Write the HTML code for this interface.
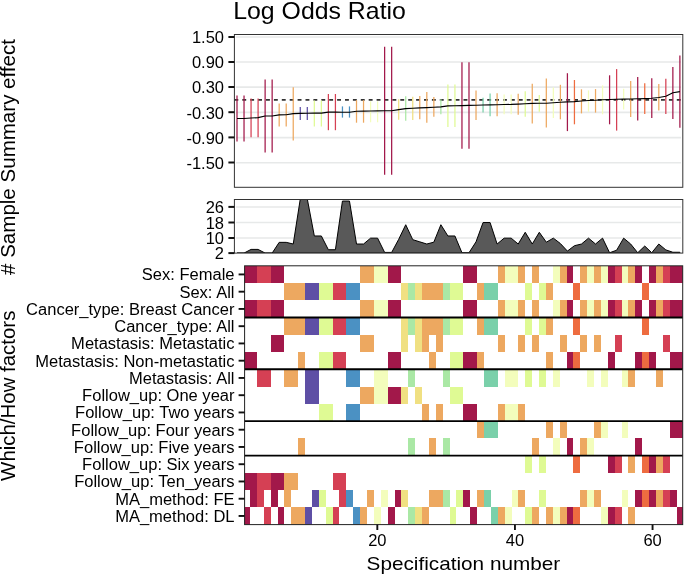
<!DOCTYPE html>
<html lang="en"><head><meta charset="utf-8"><title>Log Odds Ratio</title>
<style>html,body{margin:0;padding:0;background:#fff}svg{display:block}</style></head>
<body>
<svg width="685" height="576" viewBox="0 0 685 576" font-family="Liberation Sans, Arial, Helvetica, sans-serif" fill="#000">
<rect width="685" height="576" fill="#fff"/>
<text x="233.2" y="19" font-size="24" textLength="172.7" lengthAdjust="spacingAndGlyphs">Log Odds Ratio</text>
<line x1="236" x2="681" y1="37" y2="37" stroke="#E7E9E9" stroke-width="1.6"/>
<line x1="236" x2="681" y1="62" y2="62" stroke="#E7E9E9" stroke-width="1.6"/>
<line x1="236" x2="681" y1="87.1" y2="87.1" stroke="#E7E9E9" stroke-width="1.6"/>
<line x1="236" x2="681" y1="112.4" y2="112.4" stroke="#E7E9E9" stroke-width="1.6"/>
<line x1="236" x2="681" y1="137.6" y2="137.6" stroke="#E7E9E9" stroke-width="1.6"/>
<line x1="236" x2="681" y1="162.7" y2="162.7" stroke="#E7E9E9" stroke-width="1.6"/>
<line x1="234.4" x2="682.8" y1="99.9" y2="99.9" stroke="#333" stroke-width="1.8" stroke-dasharray="3.9 4"/>
<line x1="237.00" x2="237.00" y1="95.5" y2="141.6" stroke="#A2184A" stroke-width="1.25"/>
<line x1="244.03" x2="244.03" y1="95.5" y2="141.6" stroke="#A2184A" stroke-width="1.25"/>
<line x1="251.06" x2="251.06" y1="98.5" y2="137.3" stroke="#D54054" stroke-width="1.25"/>
<line x1="258.09" x2="258.09" y1="98.5" y2="137.3" stroke="#D54054" stroke-width="1.25"/>
<line x1="265.12" x2="265.12" y1="79.5" y2="152.5" stroke="#A2184A" stroke-width="1.25"/>
<line x1="272.15" x2="272.15" y1="79.5" y2="152.5" stroke="#A2184A" stroke-width="1.25"/>
<line x1="279.18" x2="279.18" y1="103.4" y2="126.4" stroke="#EDA860" stroke-width="1.25"/>
<line x1="286.21" x2="286.21" y1="103.4" y2="126.4" stroke="#EDA860" stroke-width="1.25"/>
<line x1="293.24" x2="293.24" y1="87.2" y2="140.6" stroke="#EDA860" stroke-width="1.25"/>
<line x1="300.27" x2="300.27" y1="107" y2="120.1" stroke="#5E4FA5" stroke-width="1.25"/>
<line x1="307.30" x2="307.30" y1="107" y2="120.1" stroke="#5E4FA5" stroke-width="1.25"/>
<line x1="314.33" x2="314.33" y1="100.5" y2="126.4" stroke="#DFFA94" stroke-width="1.25"/>
<line x1="321.36" x2="321.36" y1="100.5" y2="126.4" stroke="#DFFA94" stroke-width="1.25"/>
<line x1="328.39" x2="328.39" y1="94" y2="130.2" stroke="#D54054" stroke-width="1.25"/>
<line x1="335.42" x2="335.42" y1="94" y2="130.2" stroke="#D54054" stroke-width="1.25"/>
<line x1="342.45" x2="342.45" y1="106.4" y2="117.6" stroke="#4B91C3" stroke-width="1.25"/>
<line x1="349.48" x2="349.48" y1="106.4" y2="117.6" stroke="#4B91C3" stroke-width="1.25"/>
<line x1="356.51" x2="356.51" y1="100.2" y2="122.7" stroke="#EDA860" stroke-width="1.25"/>
<line x1="363.54" x2="363.54" y1="100.2" y2="122.7" stroke="#EDA860" stroke-width="1.25"/>
<line x1="370.57" x2="370.57" y1="101.3" y2="122.3" stroke="#F3FDBC" stroke-width="1.25"/>
<line x1="377.60" x2="377.60" y1="101.3" y2="122.3" stroke="#F3FDBC" stroke-width="1.25"/>
<line x1="384.63" x2="384.63" y1="46.8" y2="174.7" stroke="#A2184A" stroke-width="1.25"/>
<line x1="391.66" x2="391.66" y1="46.8" y2="174.7" stroke="#A2184A" stroke-width="1.25"/>
<line x1="398.69" x2="398.69" y1="99.2" y2="119.8" stroke="#F0E082" stroke-width="1.25"/>
<line x1="405.72" x2="405.72" y1="96.3" y2="120.8" stroke="#AAE8A5" stroke-width="1.25"/>
<line x1="412.75" x2="412.75" y1="96.8" y2="120.1" stroke="#F0E082" stroke-width="1.25"/>
<line x1="419.78" x2="419.78" y1="96" y2="119.3" stroke="#EDA860" stroke-width="1.25"/>
<line x1="426.81" x2="426.81" y1="92.1" y2="122.7" stroke="#EDA860" stroke-width="1.25"/>
<line x1="433.84" x2="433.84" y1="97.1" y2="116.8" stroke="#EDA860" stroke-width="1.25"/>
<line x1="440.87" x2="440.87" y1="99.2" y2="114.3" stroke="#AAE8A5" stroke-width="1.25"/>
<line x1="447.90" x2="447.90" y1="84.6" y2="126.9" stroke="#DFFA94" stroke-width="1.25"/>
<line x1="454.93" x2="454.93" y1="84.6" y2="126.9" stroke="#DFFA94" stroke-width="1.25"/>
<line x1="461.96" x2="461.96" y1="62.2" y2="148.7" stroke="#A2184A" stroke-width="1.25"/>
<line x1="468.99" x2="468.99" y1="62.2" y2="148.7" stroke="#A2184A" stroke-width="1.25"/>
<line x1="476.02" x2="476.02" y1="90.4" y2="120.1" stroke="#EDA860" stroke-width="1.25"/>
<line x1="483.05" x2="483.05" y1="97.7" y2="112.6" stroke="#7AD0AA" stroke-width="1.25"/>
<line x1="490.08" x2="490.08" y1="93.5" y2="116.3" stroke="#7AD0AA" stroke-width="1.25"/>
<line x1="497.11" x2="497.11" y1="93.3" y2="116.3" stroke="#EDA860" stroke-width="1.25"/>
<line x1="504.14" x2="504.14" y1="94.6" y2="114.3" stroke="#F3FDBC" stroke-width="1.25"/>
<line x1="511.17" x2="511.17" y1="94.6" y2="114.3" stroke="#F3FDBC" stroke-width="1.25"/>
<line x1="518.20" x2="518.20" y1="93.8" y2="114.8" stroke="#EDA860" stroke-width="1.25"/>
<line x1="525.23" x2="525.23" y1="91.3" y2="116.8" stroke="#DFFA94" stroke-width="1.25"/>
<line x1="532.26" x2="532.26" y1="83.7" y2="123.5" stroke="#EDA860" stroke-width="1.25"/>
<line x1="539.29" x2="539.29" y1="95.1" y2="111.75" stroke="#DFFA94" stroke-width="1.25"/>
<line x1="546.32" x2="546.32" y1="78.5" y2="127.6" stroke="#EDA860" stroke-width="1.25"/>
<line x1="553.35" x2="553.35" y1="87.4" y2="118.1" stroke="#F3FDBC" stroke-width="1.25"/>
<line x1="560.38" x2="560.38" y1="84.8" y2="119.3" stroke="#EDA860" stroke-width="1.25"/>
<line x1="567.41" x2="567.41" y1="73.2" y2="131.1" stroke="#A2184A" stroke-width="1.25"/>
<line x1="574.44" x2="574.44" y1="80" y2="124.3" stroke="#EE6C40" stroke-width="1.25"/>
<line x1="581.47" x2="581.47" y1="89.3" y2="113.4" stroke="#EDA860" stroke-width="1.25"/>
<line x1="588.50" x2="588.50" y1="90.4" y2="111.75" stroke="#F3FDBC" stroke-width="1.25"/>
<line x1="595.53" x2="595.53" y1="89.1" y2="112.6" stroke="#EDA860" stroke-width="1.25"/>
<line x1="602.56" x2="602.56" y1="85.4" y2="114.3" stroke="#F3FDBC" stroke-width="1.25"/>
<line x1="609.59" x2="609.59" y1="75.3" y2="124.3" stroke="#A2184A" stroke-width="1.25"/>
<line x1="616.62" x2="616.62" y1="69.1" y2="130.6" stroke="#D54054" stroke-width="1.25"/>
<line x1="623.65" x2="623.65" y1="88.8" y2="109.6" stroke="#F3FDBC" stroke-width="1.25"/>
<line x1="630.68" x2="630.68" y1="80.9" y2="117.1" stroke="#EDA860" stroke-width="1.25"/>
<line x1="637.71" x2="637.71" y1="77" y2="120.6" stroke="#A2184A" stroke-width="1.25"/>
<line x1="644.74" x2="644.74" y1="83.2" y2="113.9" stroke="#EE6C40" stroke-width="1.25"/>
<line x1="651.77" x2="651.77" y1="78.3" y2="118.1" stroke="#A2184A" stroke-width="1.25"/>
<line x1="658.80" x2="658.80" y1="84.1" y2="110.4" stroke="#EDA860" stroke-width="1.25"/>
<line x1="665.83" x2="665.83" y1="78.7" y2="113.9" stroke="#D54054" stroke-width="1.25"/>
<line x1="672.86" x2="672.86" y1="66.9" y2="119" stroke="#A2184A" stroke-width="1.25"/>
<line x1="679.89" x2="679.89" y1="55.5" y2="127.7" stroke="#A2184A" stroke-width="1.25"/>
<polyline points="237.00,118.5 244.03,118.5 251.06,118.0 258.09,117.6 265.12,116.0 272.15,116.0 279.18,114.9 286.21,114.8 293.24,113.6 300.27,113.4 307.30,113.3 314.33,113.1 321.36,113.1 328.39,112.1 335.42,112.1 342.45,112.2 349.48,112.3 356.51,111.2 363.54,111.1 370.57,111.0 377.60,110.9 384.63,110.8 391.66,110.7 398.69,109.6 405.72,108.6 412.75,108.3 419.78,107.9 426.81,107.6 433.84,107.3 440.87,106.9 447.90,105.9 454.93,105.8 461.96,105.6 468.99,105.4 476.02,105.2 483.05,105.0 490.08,104.9 497.11,104.7 504.14,104.5 511.17,104.4 518.20,104.1 525.23,103.8 532.26,103.4 539.29,103.3 546.32,103.2 553.35,102.7 560.38,102.2 567.41,101.9 574.44,101.6 581.47,101.0 588.50,100.5 595.53,100.2 602.56,99.8 609.59,99.5 616.62,99.3 623.65,99.1 630.68,99.0 637.71,98.8 644.74,98.6 651.77,98.3 658.80,97.5 665.83,96.3 672.86,92.8 679.89,91.6" fill="none" stroke="#000" stroke-width="1.1" stroke-linejoin="round"/>
<rect x="234.4" y="34.5" width="448.4" height="152.8" fill="none" stroke="#333" stroke-width="1"/>
<line x1="228.4" x2="234.4" y1="37" y2="37" stroke="#111" stroke-width="2"/>
<text x="224" y="43.35" font-size="16.5" text-anchor="end">1.50</text>
<line x1="228.4" x2="234.4" y1="62" y2="62" stroke="#111" stroke-width="2"/>
<text x="224" y="68.35" font-size="16.5" text-anchor="end">0.90</text>
<line x1="228.4" x2="234.4" y1="87" y2="87" stroke="#111" stroke-width="2"/>
<text x="224" y="93.35" font-size="16.5" text-anchor="end">0.30</text>
<line x1="228.4" x2="234.4" y1="112.2" y2="112.2" stroke="#111" stroke-width="2"/>
<text x="224" y="118.55" font-size="16.5" text-anchor="end">-0.30</text>
<line x1="228.4" x2="234.4" y1="137.4" y2="137.4" stroke="#111" stroke-width="2"/>
<text x="224" y="143.75" font-size="16.5" text-anchor="end">-0.90</text>
<line x1="228.4" x2="234.4" y1="162.5" y2="162.5" stroke="#111" stroke-width="2"/>
<text x="224" y="168.85" font-size="16.5" text-anchor="end">-1.50</text>
<line x1="236" x2="681" y1="207" y2="207" stroke="#E7E9E9" stroke-width="1.6"/>
<line x1="236" x2="681" y1="222.5" y2="222.5" stroke="#E7E9E9" stroke-width="1.6"/>
<line x1="236" x2="681" y1="238" y2="238" stroke="#E7E9E9" stroke-width="1.6"/>
<clipPath id="c2"><rect x="234.4" y="199.5" width="448.4" height="53.599999999999994"/></clipPath>
<polygon points="237.00,253.1 237.00,253.09 244.03,253.09 251.06,249.40 258.09,249.40 265.12,253.09 272.15,253.09 279.18,242.35 286.21,242.35 293.24,244.03 300.27,199.04 307.30,199.04 314.33,235.97 321.36,235.97 328.39,249.73 335.42,249.73 342.45,201.05 349.48,201.05 356.51,244.03 363.54,244.03 370.57,238.15 377.60,238.15 384.63,252.42 391.66,252.42 398.69,239.32 405.72,224.72 412.75,239.66 419.78,241.84 426.81,244.03 433.84,242.18 440.87,224.72 447.90,235.97 454.93,235.97 461.96,252.75 468.99,252.75 476.02,241.84 483.05,222.54 490.08,222.54 497.11,244.03 504.14,238.15 511.17,238.15 518.20,244.03 525.23,232.27 532.26,244.03 539.29,232.27 546.32,242.18 553.35,238.15 560.38,243.52 567.41,251.08 574.44,245.70 581.47,244.03 588.50,238.15 595.53,244.03 602.56,238.15 609.59,252.75 616.62,250.24 623.65,238.15 630.68,244.03 637.71,252.75 644.74,246.04 651.77,252.75 658.80,244.03 665.83,249.90 672.86,252.25 679.89,252.25 679.89,253.1" fill="#595959" stroke="#000" stroke-width="1" stroke-linejoin="round" clip-path="url(#c2)"/>
<rect x="234.4" y="199.5" width="448.4" height="53.599999999999994" fill="none" stroke="#333" stroke-width="1"/>
<line x1="228.4" x2="234.4" y1="206.9" y2="206.9" stroke="#111" stroke-width="2"/>
<text x="224" y="213.25" font-size="16.5" text-anchor="end">26</text>
<line x1="228.4" x2="234.4" y1="222.5" y2="222.5" stroke="#111" stroke-width="2"/>
<text x="224" y="228.85" font-size="16.5" text-anchor="end">18</text>
<line x1="228.4" x2="234.4" y1="238" y2="238" stroke="#111" stroke-width="2"/>
<text x="224" y="244.35" font-size="16.5" text-anchor="end">10</text>
<line x1="228.4" x2="234.4" y1="253.1" y2="253.1" stroke="#111" stroke-width="2"/>
<text x="224" y="259.45" font-size="16.5" text-anchor="end">2</text>
<clipPath id="c3"><rect x="244.6" y="265.8" width="438.1" height="258.8"/></clipPath>
<g clip-path="url(#c3)" shape-rendering="crispEdges">
<rect x="243.14" y="265.80" width="13.76" height="17.25" fill="#A2184A"/>
<rect x="256.90" y="265.80" width="13.76" height="17.25" fill="#D54054"/>
<rect x="270.66" y="265.80" width="13.76" height="17.25" fill="#A2184A"/>
<rect x="360.12" y="265.80" width="13.76" height="17.25" fill="#EDA860"/>
<rect x="373.88" y="265.80" width="13.76" height="17.25" fill="#F3FDBC"/>
<rect x="387.64" y="265.80" width="13.76" height="17.25" fill="#A2184A"/>
<rect x="463.33" y="265.80" width="13.76" height="17.25" fill="#A2184A"/>
<rect x="497.74" y="265.80" width="6.88" height="17.25" fill="#EDA860"/>
<rect x="504.62" y="265.80" width="13.76" height="17.25" fill="#F3FDBC"/>
<rect x="518.38" y="265.80" width="6.88" height="17.25" fill="#EDA860"/>
<rect x="532.14" y="265.80" width="6.88" height="17.25" fill="#EDA860"/>
<rect x="552.78" y="265.80" width="6.88" height="17.25" fill="#F3FDBC"/>
<rect x="559.67" y="265.80" width="6.88" height="17.25" fill="#EDA860"/>
<rect x="566.55" y="265.80" width="6.88" height="17.25" fill="#A2184A"/>
<rect x="580.31" y="265.80" width="6.88" height="17.25" fill="#EDA860"/>
<rect x="587.19" y="265.80" width="6.88" height="17.25" fill="#F3FDBC"/>
<rect x="594.07" y="265.80" width="6.88" height="17.25" fill="#EDA860"/>
<rect x="600.95" y="265.80" width="6.88" height="17.25" fill="#F3FDBC"/>
<rect x="607.83" y="265.80" width="6.88" height="17.25" fill="#A2184A"/>
<rect x="614.71" y="265.80" width="6.88" height="17.25" fill="#D54054"/>
<rect x="621.60" y="265.80" width="6.88" height="17.25" fill="#F3FDBC"/>
<rect x="628.48" y="265.80" width="6.88" height="17.25" fill="#EDA860"/>
<rect x="635.36" y="265.80" width="6.88" height="17.25" fill="#A2184A"/>
<rect x="649.12" y="265.80" width="6.88" height="17.25" fill="#A2184A"/>
<rect x="656.00" y="265.80" width="6.88" height="17.25" fill="#EDA860"/>
<rect x="662.88" y="265.80" width="6.88" height="17.25" fill="#D54054"/>
<rect x="669.76" y="265.80" width="13.76" height="17.25" fill="#A2184A"/>
<rect x="284.43" y="283.05" width="20.64" height="17.25" fill="#EDA860"/>
<rect x="305.07" y="283.05" width="13.76" height="17.25" fill="#5E4FA5"/>
<rect x="318.83" y="283.05" width="13.76" height="17.25" fill="#DFFA94"/>
<rect x="332.59" y="283.05" width="13.76" height="17.25" fill="#D54054"/>
<rect x="346.36" y="283.05" width="13.76" height="17.25" fill="#4B91C3"/>
<rect x="401.40" y="283.05" width="6.88" height="17.25" fill="#F0E082"/>
<rect x="408.28" y="283.05" width="6.88" height="17.25" fill="#AAE8A5"/>
<rect x="415.16" y="283.05" width="6.88" height="17.25" fill="#F0E082"/>
<rect x="422.05" y="283.05" width="20.64" height="17.25" fill="#EDA860"/>
<rect x="442.69" y="283.05" width="6.88" height="17.25" fill="#AAE8A5"/>
<rect x="449.57" y="283.05" width="13.76" height="17.25" fill="#DFFA94"/>
<rect x="477.09" y="283.05" width="6.88" height="17.25" fill="#EDA860"/>
<rect x="483.98" y="283.05" width="13.76" height="17.25" fill="#7AD0AA"/>
<rect x="525.26" y="283.05" width="6.88" height="17.25" fill="#DFFA94"/>
<rect x="539.02" y="283.05" width="6.88" height="17.25" fill="#DFFA94"/>
<rect x="545.90" y="283.05" width="6.88" height="17.25" fill="#EDA860"/>
<rect x="573.43" y="283.05" width="6.88" height="17.25" fill="#EE6C40"/>
<rect x="642.24" y="283.05" width="6.88" height="17.25" fill="#EE6C40"/>
<rect x="243.14" y="300.31" width="13.76" height="17.25" fill="#A2184A"/>
<rect x="256.90" y="300.31" width="13.76" height="17.25" fill="#D54054"/>
<rect x="270.66" y="300.31" width="13.76" height="17.25" fill="#A2184A"/>
<rect x="360.12" y="300.31" width="13.76" height="17.25" fill="#EDA860"/>
<rect x="373.88" y="300.31" width="13.76" height="17.25" fill="#F3FDBC"/>
<rect x="387.64" y="300.31" width="13.76" height="17.25" fill="#A2184A"/>
<rect x="463.33" y="300.31" width="13.76" height="17.25" fill="#A2184A"/>
<rect x="497.74" y="300.31" width="6.88" height="17.25" fill="#EDA860"/>
<rect x="504.62" y="300.31" width="13.76" height="17.25" fill="#F3FDBC"/>
<rect x="518.38" y="300.31" width="6.88" height="17.25" fill="#EDA860"/>
<rect x="532.14" y="300.31" width="6.88" height="17.25" fill="#EDA860"/>
<rect x="552.78" y="300.31" width="6.88" height="17.25" fill="#F3FDBC"/>
<rect x="559.67" y="300.31" width="6.88" height="17.25" fill="#EDA860"/>
<rect x="566.55" y="300.31" width="6.88" height="17.25" fill="#A2184A"/>
<rect x="580.31" y="300.31" width="6.88" height="17.25" fill="#EDA860"/>
<rect x="587.19" y="300.31" width="6.88" height="17.25" fill="#F3FDBC"/>
<rect x="594.07" y="300.31" width="6.88" height="17.25" fill="#EDA860"/>
<rect x="600.95" y="300.31" width="6.88" height="17.25" fill="#F3FDBC"/>
<rect x="607.83" y="300.31" width="6.88" height="17.25" fill="#A2184A"/>
<rect x="614.71" y="300.31" width="6.88" height="17.25" fill="#D54054"/>
<rect x="621.60" y="300.31" width="6.88" height="17.25" fill="#F3FDBC"/>
<rect x="628.48" y="300.31" width="6.88" height="17.25" fill="#EDA860"/>
<rect x="635.36" y="300.31" width="6.88" height="17.25" fill="#A2184A"/>
<rect x="649.12" y="300.31" width="6.88" height="17.25" fill="#A2184A"/>
<rect x="656.00" y="300.31" width="6.88" height="17.25" fill="#EDA860"/>
<rect x="662.88" y="300.31" width="6.88" height="17.25" fill="#D54054"/>
<rect x="669.76" y="300.31" width="13.76" height="17.25" fill="#A2184A"/>
<rect x="284.43" y="317.56" width="20.64" height="17.25" fill="#EDA860"/>
<rect x="305.07" y="317.56" width="13.76" height="17.25" fill="#5E4FA5"/>
<rect x="318.83" y="317.56" width="13.76" height="17.25" fill="#DFFA94"/>
<rect x="332.59" y="317.56" width="13.76" height="17.25" fill="#D54054"/>
<rect x="346.36" y="317.56" width="13.76" height="17.25" fill="#4B91C3"/>
<rect x="401.40" y="317.56" width="6.88" height="17.25" fill="#F0E082"/>
<rect x="408.28" y="317.56" width="6.88" height="17.25" fill="#AAE8A5"/>
<rect x="415.16" y="317.56" width="6.88" height="17.25" fill="#F0E082"/>
<rect x="422.05" y="317.56" width="20.64" height="17.25" fill="#EDA860"/>
<rect x="442.69" y="317.56" width="6.88" height="17.25" fill="#AAE8A5"/>
<rect x="449.57" y="317.56" width="13.76" height="17.25" fill="#DFFA94"/>
<rect x="477.09" y="317.56" width="6.88" height="17.25" fill="#EDA860"/>
<rect x="483.98" y="317.56" width="13.76" height="17.25" fill="#7AD0AA"/>
<rect x="525.26" y="317.56" width="6.88" height="17.25" fill="#DFFA94"/>
<rect x="539.02" y="317.56" width="6.88" height="17.25" fill="#DFFA94"/>
<rect x="545.90" y="317.56" width="6.88" height="17.25" fill="#EDA860"/>
<rect x="573.43" y="317.56" width="6.88" height="17.25" fill="#EE6C40"/>
<rect x="642.24" y="317.56" width="6.88" height="17.25" fill="#EE6C40"/>
<rect x="270.66" y="334.81" width="13.76" height="17.25" fill="#A2184A"/>
<rect x="360.12" y="334.81" width="13.76" height="17.25" fill="#EDA860"/>
<rect x="401.40" y="334.81" width="6.88" height="17.25" fill="#F0E082"/>
<rect x="415.16" y="334.81" width="6.88" height="17.25" fill="#F0E082"/>
<rect x="422.05" y="334.81" width="6.88" height="17.25" fill="#EDA860"/>
<rect x="435.81" y="334.81" width="6.88" height="17.25" fill="#EDA860"/>
<rect x="497.74" y="334.81" width="6.88" height="17.25" fill="#EDA860"/>
<rect x="518.38" y="334.81" width="6.88" height="17.25" fill="#EDA860"/>
<rect x="532.14" y="334.81" width="6.88" height="17.25" fill="#EDA860"/>
<rect x="559.67" y="334.81" width="6.88" height="17.25" fill="#EDA860"/>
<rect x="580.31" y="334.81" width="6.88" height="17.25" fill="#EDA860"/>
<rect x="594.07" y="334.81" width="6.88" height="17.25" fill="#EDA860"/>
<rect x="614.71" y="334.81" width="6.88" height="17.25" fill="#D54054"/>
<rect x="662.88" y="334.81" width="6.88" height="17.25" fill="#D54054"/>
<rect x="243.14" y="352.07" width="13.76" height="17.25" fill="#A2184A"/>
<rect x="298.19" y="352.07" width="6.88" height="17.25" fill="#EDA860"/>
<rect x="318.83" y="352.07" width="13.76" height="17.25" fill="#DFFA94"/>
<rect x="332.59" y="352.07" width="13.76" height="17.25" fill="#D54054"/>
<rect x="387.64" y="352.07" width="13.76" height="17.25" fill="#A2184A"/>
<rect x="428.93" y="352.07" width="6.88" height="17.25" fill="#EDA860"/>
<rect x="449.57" y="352.07" width="13.76" height="17.25" fill="#DFFA94"/>
<rect x="463.33" y="352.07" width="13.76" height="17.25" fill="#A2184A"/>
<rect x="477.09" y="352.07" width="6.88" height="17.25" fill="#EDA860"/>
<rect x="545.90" y="352.07" width="6.88" height="17.25" fill="#EDA860"/>
<rect x="566.55" y="352.07" width="6.88" height="17.25" fill="#A2184A"/>
<rect x="573.43" y="352.07" width="6.88" height="17.25" fill="#EE6C40"/>
<rect x="607.83" y="352.07" width="6.88" height="17.25" fill="#A2184A"/>
<rect x="635.36" y="352.07" width="6.88" height="17.25" fill="#A2184A"/>
<rect x="642.24" y="352.07" width="6.88" height="17.25" fill="#EE6C40"/>
<rect x="649.12" y="352.07" width="6.88" height="17.25" fill="#A2184A"/>
<rect x="669.76" y="352.07" width="13.76" height="17.25" fill="#A2184A"/>
<rect x="256.90" y="369.32" width="13.76" height="17.25" fill="#D54054"/>
<rect x="284.43" y="369.32" width="13.76" height="17.25" fill="#EDA860"/>
<rect x="305.07" y="369.32" width="13.76" height="17.25" fill="#5E4FA5"/>
<rect x="346.36" y="369.32" width="13.76" height="17.25" fill="#4B91C3"/>
<rect x="373.88" y="369.32" width="13.76" height="17.25" fill="#F3FDBC"/>
<rect x="408.28" y="369.32" width="6.88" height="17.25" fill="#AAE8A5"/>
<rect x="442.69" y="369.32" width="6.88" height="17.25" fill="#AAE8A5"/>
<rect x="483.98" y="369.32" width="13.76" height="17.25" fill="#7AD0AA"/>
<rect x="504.62" y="369.32" width="13.76" height="17.25" fill="#F3FDBC"/>
<rect x="525.26" y="369.32" width="6.88" height="17.25" fill="#DFFA94"/>
<rect x="539.02" y="369.32" width="6.88" height="17.25" fill="#DFFA94"/>
<rect x="552.78" y="369.32" width="6.88" height="17.25" fill="#F3FDBC"/>
<rect x="587.19" y="369.32" width="6.88" height="17.25" fill="#F3FDBC"/>
<rect x="600.95" y="369.32" width="6.88" height="17.25" fill="#F3FDBC"/>
<rect x="621.60" y="369.32" width="6.88" height="17.25" fill="#F3FDBC"/>
<rect x="628.48" y="369.32" width="6.88" height="17.25" fill="#EDA860"/>
<rect x="656.00" y="369.32" width="6.88" height="17.25" fill="#EDA860"/>
<rect x="305.07" y="386.57" width="13.76" height="17.25" fill="#5E4FA5"/>
<rect x="360.12" y="386.57" width="13.76" height="17.25" fill="#EDA860"/>
<rect x="373.88" y="386.57" width="13.76" height="17.25" fill="#F3FDBC"/>
<rect x="387.64" y="386.57" width="13.76" height="17.25" fill="#A2184A"/>
<rect x="401.40" y="386.57" width="6.88" height="17.25" fill="#F0E082"/>
<rect x="415.16" y="386.57" width="6.88" height="17.25" fill="#F0E082"/>
<rect x="449.57" y="386.57" width="13.76" height="17.25" fill="#DFFA94"/>
<rect x="318.83" y="403.83" width="13.76" height="17.25" fill="#DFFA94"/>
<rect x="346.36" y="403.83" width="13.76" height="17.25" fill="#4B91C3"/>
<rect x="422.05" y="403.83" width="6.88" height="17.25" fill="#EDA860"/>
<rect x="435.81" y="403.83" width="6.88" height="17.25" fill="#EDA860"/>
<rect x="463.33" y="403.83" width="13.76" height="17.25" fill="#A2184A"/>
<rect x="497.74" y="403.83" width="6.88" height="17.25" fill="#EDA860"/>
<rect x="504.62" y="403.83" width="13.76" height="17.25" fill="#F3FDBC"/>
<rect x="518.38" y="403.83" width="6.88" height="17.25" fill="#EDA860"/>
<rect x="477.09" y="421.08" width="6.88" height="17.25" fill="#EDA860"/>
<rect x="483.98" y="421.08" width="13.76" height="17.25" fill="#7AD0AA"/>
<rect x="545.90" y="421.08" width="6.88" height="17.25" fill="#EDA860"/>
<rect x="559.67" y="421.08" width="6.88" height="17.25" fill="#EDA860"/>
<rect x="594.07" y="421.08" width="6.88" height="17.25" fill="#EDA860"/>
<rect x="600.95" y="421.08" width="6.88" height="17.25" fill="#F3FDBC"/>
<rect x="621.60" y="421.08" width="6.88" height="17.25" fill="#F3FDBC"/>
<rect x="669.76" y="421.08" width="13.76" height="17.25" fill="#A2184A"/>
<rect x="298.19" y="438.33" width="6.88" height="17.25" fill="#EDA860"/>
<rect x="408.28" y="438.33" width="6.88" height="17.25" fill="#AAE8A5"/>
<rect x="428.93" y="438.33" width="6.88" height="17.25" fill="#EDA860"/>
<rect x="442.69" y="438.33" width="6.88" height="17.25" fill="#AAE8A5"/>
<rect x="532.14" y="438.33" width="6.88" height="17.25" fill="#EDA860"/>
<rect x="552.78" y="438.33" width="6.88" height="17.25" fill="#F3FDBC"/>
<rect x="566.55" y="438.33" width="6.88" height="17.25" fill="#A2184A"/>
<rect x="580.31" y="438.33" width="6.88" height="17.25" fill="#EDA860"/>
<rect x="587.19" y="438.33" width="6.88" height="17.25" fill="#F3FDBC"/>
<rect x="635.36" y="438.33" width="6.88" height="17.25" fill="#A2184A"/>
<rect x="525.26" y="455.59" width="6.88" height="17.25" fill="#DFFA94"/>
<rect x="539.02" y="455.59" width="6.88" height="17.25" fill="#DFFA94"/>
<rect x="573.43" y="455.59" width="6.88" height="17.25" fill="#EE6C40"/>
<rect x="607.83" y="455.59" width="6.88" height="17.25" fill="#A2184A"/>
<rect x="614.71" y="455.59" width="6.88" height="17.25" fill="#D54054"/>
<rect x="628.48" y="455.59" width="6.88" height="17.25" fill="#EDA860"/>
<rect x="642.24" y="455.59" width="6.88" height="17.25" fill="#EE6C40"/>
<rect x="649.12" y="455.59" width="6.88" height="17.25" fill="#A2184A"/>
<rect x="656.00" y="455.59" width="6.88" height="17.25" fill="#EDA860"/>
<rect x="662.88" y="455.59" width="6.88" height="17.25" fill="#D54054"/>
<rect x="243.14" y="472.84" width="13.76" height="17.25" fill="#A2184A"/>
<rect x="256.90" y="472.84" width="13.76" height="17.25" fill="#D54054"/>
<rect x="270.66" y="472.84" width="13.76" height="17.25" fill="#A2184A"/>
<rect x="284.43" y="472.84" width="13.76" height="17.25" fill="#EDA860"/>
<rect x="332.59" y="472.84" width="13.76" height="17.25" fill="#D54054"/>
<rect x="250.02" y="490.09" width="6.88" height="17.25" fill="#A2184A"/>
<rect x="256.90" y="490.09" width="6.88" height="17.25" fill="#D54054"/>
<rect x="270.66" y="490.09" width="6.88" height="17.25" fill="#A2184A"/>
<rect x="284.43" y="490.09" width="6.88" height="17.25" fill="#EDA860"/>
<rect x="311.95" y="490.09" width="6.88" height="17.25" fill="#5E4FA5"/>
<rect x="318.83" y="490.09" width="6.88" height="17.25" fill="#DFFA94"/>
<rect x="339.47" y="490.09" width="6.88" height="17.25" fill="#D54054"/>
<rect x="346.36" y="490.09" width="6.88" height="17.25" fill="#4B91C3"/>
<rect x="367.00" y="490.09" width="6.88" height="17.25" fill="#EDA860"/>
<rect x="380.76" y="490.09" width="6.88" height="17.25" fill="#F3FDBC"/>
<rect x="394.52" y="490.09" width="6.88" height="17.25" fill="#A2184A"/>
<rect x="401.40" y="490.09" width="6.88" height="17.25" fill="#F0E082"/>
<rect x="428.93" y="490.09" width="13.76" height="17.25" fill="#EDA860"/>
<rect x="442.69" y="490.09" width="6.88" height="17.25" fill="#AAE8A5"/>
<rect x="456.45" y="490.09" width="6.88" height="17.25" fill="#DFFA94"/>
<rect x="463.33" y="490.09" width="6.88" height="17.25" fill="#A2184A"/>
<rect x="477.09" y="490.09" width="6.88" height="17.25" fill="#EDA860"/>
<rect x="483.98" y="490.09" width="6.88" height="17.25" fill="#7AD0AA"/>
<rect x="511.50" y="490.09" width="6.88" height="17.25" fill="#F3FDBC"/>
<rect x="518.38" y="490.09" width="6.88" height="17.25" fill="#EDA860"/>
<rect x="539.02" y="490.09" width="6.88" height="17.25" fill="#DFFA94"/>
<rect x="580.31" y="490.09" width="6.88" height="17.25" fill="#EDA860"/>
<rect x="587.19" y="490.09" width="6.88" height="17.25" fill="#F3FDBC"/>
<rect x="594.07" y="490.09" width="6.88" height="17.25" fill="#EDA860"/>
<rect x="621.60" y="490.09" width="6.88" height="17.25" fill="#F3FDBC"/>
<rect x="635.36" y="490.09" width="6.88" height="17.25" fill="#A2184A"/>
<rect x="642.24" y="490.09" width="6.88" height="17.25" fill="#EE6C40"/>
<rect x="649.12" y="490.09" width="6.88" height="17.25" fill="#A2184A"/>
<rect x="656.00" y="490.09" width="6.88" height="17.25" fill="#EDA860"/>
<rect x="662.88" y="490.09" width="6.88" height="17.25" fill="#D54054"/>
<rect x="669.76" y="490.09" width="6.88" height="17.25" fill="#A2184A"/>
<rect x="243.14" y="507.35" width="6.88" height="17.25" fill="#A2184A"/>
<rect x="263.78" y="507.35" width="6.88" height="17.25" fill="#D54054"/>
<rect x="277.54" y="507.35" width="6.88" height="17.25" fill="#A2184A"/>
<rect x="291.31" y="507.35" width="13.76" height="17.25" fill="#EDA860"/>
<rect x="305.07" y="507.35" width="6.88" height="17.25" fill="#5E4FA5"/>
<rect x="325.71" y="507.35" width="6.88" height="17.25" fill="#DFFA94"/>
<rect x="332.59" y="507.35" width="6.88" height="17.25" fill="#D54054"/>
<rect x="353.24" y="507.35" width="6.88" height="17.25" fill="#4B91C3"/>
<rect x="360.12" y="507.35" width="6.88" height="17.25" fill="#EDA860"/>
<rect x="373.88" y="507.35" width="6.88" height="17.25" fill="#F3FDBC"/>
<rect x="387.64" y="507.35" width="6.88" height="17.25" fill="#A2184A"/>
<rect x="408.28" y="507.35" width="6.88" height="17.25" fill="#AAE8A5"/>
<rect x="415.16" y="507.35" width="6.88" height="17.25" fill="#F0E082"/>
<rect x="422.05" y="507.35" width="6.88" height="17.25" fill="#EDA860"/>
<rect x="449.57" y="507.35" width="6.88" height="17.25" fill="#DFFA94"/>
<rect x="470.21" y="507.35" width="6.88" height="17.25" fill="#A2184A"/>
<rect x="490.86" y="507.35" width="6.88" height="17.25" fill="#7AD0AA"/>
<rect x="497.74" y="507.35" width="6.88" height="17.25" fill="#EDA860"/>
<rect x="504.62" y="507.35" width="6.88" height="17.25" fill="#F3FDBC"/>
<rect x="525.26" y="507.35" width="6.88" height="17.25" fill="#DFFA94"/>
<rect x="532.14" y="507.35" width="6.88" height="17.25" fill="#EDA860"/>
<rect x="545.90" y="507.35" width="6.88" height="17.25" fill="#EDA860"/>
<rect x="552.78" y="507.35" width="6.88" height="17.25" fill="#F3FDBC"/>
<rect x="559.67" y="507.35" width="6.88" height="17.25" fill="#EDA860"/>
<rect x="566.55" y="507.35" width="6.88" height="17.25" fill="#A2184A"/>
<rect x="573.43" y="507.35" width="6.88" height="17.25" fill="#EE6C40"/>
<rect x="600.95" y="507.35" width="6.88" height="17.25" fill="#F3FDBC"/>
<rect x="607.83" y="507.35" width="6.88" height="17.25" fill="#A2184A"/>
<rect x="614.71" y="507.35" width="6.88" height="17.25" fill="#D54054"/>
<rect x="628.48" y="507.35" width="6.88" height="17.25" fill="#EDA860"/>
<rect x="676.64" y="507.35" width="6.88" height="17.25" fill="#A2184A"/>
</g>
<line x1="244.6" x2="682.7" y1="317.56" y2="317.56" stroke="#000" stroke-width="1.9"/>
<line x1="244.6" x2="682.7" y1="369.32" y2="369.32" stroke="#000" stroke-width="1.9"/>
<line x1="244.6" x2="682.7" y1="421.08" y2="421.08" stroke="#000" stroke-width="1.9"/>
<line x1="244.6" x2="682.7" y1="455.59" y2="455.59" stroke="#000" stroke-width="1.9"/>
<rect x="244.6" y="265.8" width="438.1" height="258.8" fill="none" stroke="#222" stroke-width="1"/>
<line x1="238.6" x2="244.6" y1="274.43" y2="274.43" stroke="#111" stroke-width="1.9"/>
<text transform="translate(234.5,280.33) scale(1.046,1)" font-size="15.8" text-anchor="end">Sex: Female</text>
<line x1="238.6" x2="244.6" y1="291.68" y2="291.68" stroke="#111" stroke-width="1.9"/>
<text transform="translate(234.5,297.58) scale(1.046,1)" font-size="15.8" text-anchor="end">Sex: All</text>
<line x1="238.6" x2="244.6" y1="308.93" y2="308.93" stroke="#111" stroke-width="1.9"/>
<text transform="translate(234.5,314.83) scale(1.046,1)" font-size="15.8" text-anchor="end">Cancer_type: Breast Cancer</text>
<line x1="238.6" x2="244.6" y1="326.19" y2="326.19" stroke="#111" stroke-width="1.9"/>
<text transform="translate(234.5,332.09) scale(1.046,1)" font-size="15.8" text-anchor="end">Cancer_type: All</text>
<line x1="238.6" x2="244.6" y1="343.44" y2="343.44" stroke="#111" stroke-width="1.9"/>
<text transform="translate(234.5,349.34) scale(1.046,1)" font-size="15.8" text-anchor="end">Metastasis: Metastatic</text>
<line x1="238.6" x2="244.6" y1="360.69" y2="360.69" stroke="#111" stroke-width="1.9"/>
<text transform="translate(234.5,366.59) scale(1.046,1)" font-size="15.8" text-anchor="end">Metastasis: Non-metastatic</text>
<line x1="238.6" x2="244.6" y1="377.95" y2="377.95" stroke="#111" stroke-width="1.9"/>
<text transform="translate(234.5,383.85) scale(1.046,1)" font-size="15.8" text-anchor="end">Metastasis: All</text>
<line x1="238.6" x2="244.6" y1="395.20" y2="395.20" stroke="#111" stroke-width="1.9"/>
<text transform="translate(234.5,401.10) scale(1.046,1)" font-size="15.8" text-anchor="end">Follow_up: One year</text>
<line x1="238.6" x2="244.6" y1="412.45" y2="412.45" stroke="#111" stroke-width="1.9"/>
<text transform="translate(234.5,418.35) scale(1.046,1)" font-size="15.8" text-anchor="end">Follow_up: Two years</text>
<line x1="238.6" x2="244.6" y1="429.71" y2="429.71" stroke="#111" stroke-width="1.9"/>
<text transform="translate(234.5,435.61) scale(1.046,1)" font-size="15.8" text-anchor="end">Follow_up: Four years</text>
<line x1="238.6" x2="244.6" y1="446.96" y2="446.96" stroke="#111" stroke-width="1.9"/>
<text transform="translate(234.5,452.86) scale(1.046,1)" font-size="15.8" text-anchor="end">Follow_up: Five years</text>
<line x1="238.6" x2="244.6" y1="464.21" y2="464.21" stroke="#111" stroke-width="1.9"/>
<text transform="translate(234.5,470.11) scale(1.046,1)" font-size="15.8" text-anchor="end">Follow_up: Six years</text>
<line x1="238.6" x2="244.6" y1="481.47" y2="481.47" stroke="#111" stroke-width="1.9"/>
<text transform="translate(234.5,487.37) scale(1.046,1)" font-size="15.8" text-anchor="end">Follow_up: Ten_years</text>
<line x1="238.6" x2="244.6" y1="498.72" y2="498.72" stroke="#111" stroke-width="1.9"/>
<text transform="translate(234.5,504.62) scale(1.046,1)" font-size="15.8" text-anchor="end">MA_method: FE</text>
<line x1="238.6" x2="244.6" y1="515.97" y2="515.97" stroke="#111" stroke-width="1.9"/>
<text transform="translate(234.5,521.87) scale(1.046,1)" font-size="15.8" text-anchor="end">MA_method: DL</text>
<line x1="377.32" x2="377.32" y1="524.6" y2="530" stroke="#111" stroke-width="1.9"/>
<text x="377.32" y="546" font-size="16.5" text-anchor="middle">20</text>
<line x1="514.94" x2="514.94" y1="524.6" y2="530" stroke="#111" stroke-width="1.9"/>
<text x="514.94" y="546" font-size="16.5" text-anchor="middle">40</text>
<line x1="652.56" x2="652.56" y1="524.6" y2="530" stroke="#111" stroke-width="1.9"/>
<text x="652.56" y="546" font-size="16.5" text-anchor="middle">60</text>
<text x="463.4" y="569.6" font-size="18.6" text-anchor="middle" textLength="193.7" lengthAdjust="spacingAndGlyphs">Specification number</text>
<text transform="translate(15.4,480.9) rotate(-90)" font-size="20.2" textLength="170.3" lengthAdjust="spacingAndGlyphs">Which/How factors</text>
<text transform="translate(15.4,275) rotate(-90)" font-size="20.2" textLength="236" lengthAdjust="spacingAndGlyphs"># Sample Summary effect</text>
</svg>
</body></html>
